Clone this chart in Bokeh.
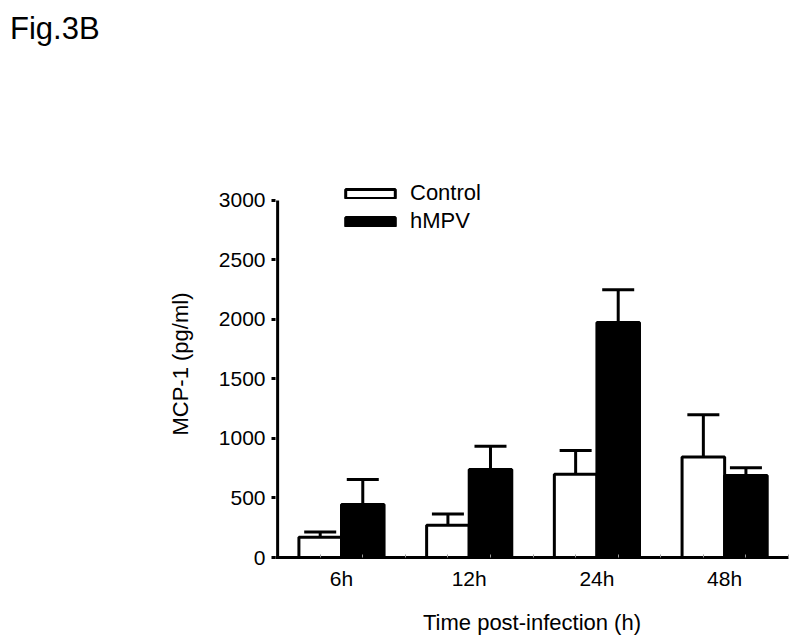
from bokeh.plotting import figure
from bokeh.layouts import column
from bokeh.models import (ColumnDataSource, FixedTicker, Whisker, TeeHead, Legend,
                          LegendItem, Range1d, Div)
from bokeh.embed import file_html
from bokeh.resources import INLINE

# ---- data ----
times = ["6h", "12h", "24h", "48h"]
control = [170, 270, 700, 845]
control_err = [45, 95, 200, 355]
hmpv = [445, 740, 1975, 690]
hmpv_err = [210, 195, 275, 65]
y_ticks = [0, 500, 1000, 1500, 2000, 2500, 3000]

FONT = "Liberation Sans"

n = len(times)
ctrl_x = [3 * i + 1 for i in range(n)]
hmpv_x = [3 * i + 2 for i in range(n)]
group_x = [3 * i + 1.5 for i in range(n)]

src_c = ColumnDataSource(dict(x=ctrl_x, top=control,
                              upper=[v + e for v, e in zip(control, control_err)]))
src_h = ColumnDataSource(dict(x=hmpv_x, top=hmpv,
                              upper=[v + e for v, e in zip(hmpv, hmpv_err)]))

title_div = Div(text="Fig.3B", width=300, height=48, margin=(0, 0, 0, 0),
                styles={"font-family": FONT, "font-size": "31px", "color": "black",
                        "padding-top": "11px", "padding-left": "10px",
                        "line-height": "normal"})

p = figure(width=792, height=592, output_backend="svg", toolbar_location=None,
           x_range=Range1d(-0.05, 3 * n), y_range=Range1d(0, 3252),
           min_border_left=275, min_border_right=4, min_border_top=122,
           min_border_bottom=83, margin=(0, 0, 0, 0))
p.outline_line_color = None
p.xgrid.visible = False
p.ygrid.visible = False
p.background_fill_color = "white"
p.border_fill_color = "white"

# error bars (upper only)
for src in (src_c, src_h):
    w = Whisker(source=src, base="x", lower="top", upper="upper", dimension="height",
                line_width=3, line_color="black",
                upper_head=TeeHead(size=32, line_width=3, line_color="black"),
                lower_head=None)
    p.add_layout(w)

rc = p.vbar(x="x", top="top", width=1, bottom=0, source=src_c,
            fill_color="white", line_color="black", line_width=3)
rh = p.vbar(x="x", top="top", width=1, bottom=0, source=src_h,
            fill_color="black", line_color="black", line_width=3)

# y-axis line only up to the last tick
p.segment(x0=[0], y0=[y_ticks[0]], x1=[0], y1=[y_ticks[-1]],
          line_color="black", line_width=3)

# axes
xa = p.xaxis[0]
xa.ticker = FixedTicker(ticks=group_x, minor_ticks=list(range(1, 3 * n + 1)))
xa.major_label_overrides = {gx: t for gx, t in zip(group_x, times)}
xa.major_tick_line_color = None
xa.minor_tick_in = 3
xa.minor_tick_out = 0
xa.minor_tick_line_color = "#999999"
xa.minor_tick_line_width = 1
xa.axis_line_width = 3
xa.axis_line_color = "black"
xa.major_label_text_font = FONT
xa.major_label_text_font_size = "21px"
xa.major_label_text_color = "black"
xa.major_label_standoff = 3
xa.axis_label = "Time post-infection (h)"
xa.axis_label_text_font = FONT
xa.axis_label_text_font_size = "22px"
xa.axis_label_text_font_style = "normal"
xa.axis_label_text_color = "black"
xa.axis_label_standoff = 17

ya = p.yaxis[0]
ya.ticker = FixedTicker(ticks=y_ticks)
ya.minor_tick_line_color = None
ya.major_tick_in = 0
ya.major_tick_out = 4
ya.major_tick_line_width = 3
ya.major_tick_line_color = "black"
ya.axis_line_color = None
ya.major_label_text_font = FONT
ya.major_label_text_font_size = "21px"
ya.major_label_text_color = "black"
ya.major_label_standoff = 6
ya.axis_label = "MCP-1 (pg/ml)"
ya.axis_label_text_font = FONT
ya.axis_label_text_font_size = "22px"
ya.axis_label_text_font_style = "normal"
ya.axis_label_text_color = "black"
ya.axis_label_standoff = 23

# legend
legend = Legend(items=[LegendItem(label="Control", renderers=[rc]),
                       LegendItem(label="hMPV", renderers=[rh])],
                location=(64, 323), orientation="vertical",
                glyph_width=62, glyph_height=11, label_height=25, spacing=2,
                padding=0, margin=0, label_standoff=9,
                border_line_color=None, background_fill_alpha=0,
                label_text_font=FONT, label_text_font_size="22px",
                label_text_color="black")
p.add_layout(legend, "center")

layout = column(title_div, p, spacing=0)
open("out.html", "w").write(file_html(layout, INLINE))
